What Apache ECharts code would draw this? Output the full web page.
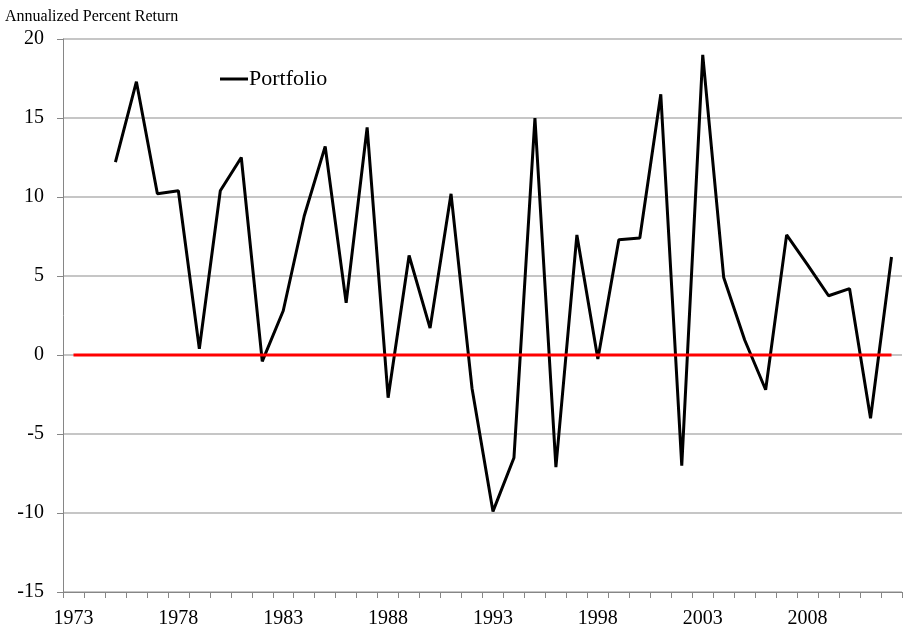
<!DOCTYPE html>
<html>
<head>
<meta charset="utf-8">
<script src="https://cdn.jsdelivr.net/npm/echarts@6/dist/echarts.min.js"></script>
<style>
  html, body { margin: 0; padding: 0; background: #fff; }
  #chart { width: 904px; height: 629px; }
</style>
</head>
<body>
<div id="chart"></div>
<script>
const years = [];
for (let y = 1973; y <= 2012; y++) years.push(String(y));

// portfolio returns, 1975 - 2012
const returnYears = ['1975','1976','1977','1978','1979','1980','1981','1982','1983','1984',
  '1985','1986','1987','1988','1989','1990','1991','1992','1993','1994',
  '1995','1996','1997','1998','1999','2000','2001','2002','2003','2004',
  '2005','2006','2007','2008','2009','2010','2011','2012']
const returns = [12.2, 17.3, 10.2, 10.4, 0.4, 10.4, 12.5, -0.4, 2.8, 8.8,
  13.2, 3.3, 14.4, -2.7, 6.3, 1.7, 10.2, -2.1, -9.9, -6.5,
  15.0, -7.1, 7.6, -0.25, 7.3, 7.4, 16.5, -7.0, 19.0, 4.9,
  0.95, -2.2, 7.6, 5.7, 3.75, 4.2, -4.0, 6.2]
const zeroEnds = ['1973', '2012']
const yTicks = { min: -15, max: 20, step: 5 }

const font = '"Liberation Serif", "Times New Roman", serif'
var chart = echarts.init(document.getElementById('chart'))

var option = {
  animation: false,
  grid: { left: 63, right: 2, top: 39, bottom: 37, containLabel: false },
  title: {
    text: 'Annualized Percent Return',
    left: 0, top: 4,
    textStyle: { fontFamily: font, fontSize: 16, fontWeight: 'normal', color: '#000' }
  },
  legend: {
    data: ['Portfolio'],
    left: 215, top: 63,
    icon: 'rect',
    itemWidth: 28, itemHeight: 3, itemGap: 2,
    textStyle: { fontFamily: font, fontSize: 22, color: '#000', padding: [0, 0, 0, -4] }
  },
  xAxis: {
    type: 'category',
    data: years,
    boundaryGap: true,
    axisLine: { onZero: false, lineStyle: { color: '#868686', width: 1 } },
    axisTick: { show: true, interval: 0, length: 6, lineStyle: { color: '#868686' } },
    axisLabel: { interval: 4, fontFamily: font, fontSize: 20, color: '#000', margin: 17 },
    splitLine: { show: false }
  },
  yAxis: {
    type: 'value',
    min: yTicks.min, max: yTicks.max, interval: yTicks.step,
    axisLine: { show: true, lineStyle: { color: '#868686', width: 1 } },
    axisTick: { show: true, length: 6, lineStyle: { color: '#868686' } },
    axisLabel: { fontFamily: font, fontSize: 20, color: '#000', margin: 19 },
    splitLine: { lineStyle: { color: '#b3b3b3', width: 1.5 } }
  },
  series: [
    {
      name: 'Portfolio',
      type: 'line',
      data: returnYears.map((y, i) => [y, returns[i]]),
      symbol: 'none',
      color: '#000',
      lineStyle: { color: '#000', width: 3 },
      z: 2
    },
    {
      name: 'Zero',
      type: 'line',
      data: zeroEnds.map(y => [y, 0]),
      symbol: 'none',
      color: '#ff0000',
      lineStyle: { color: '#ff0000', width: 3 },
      z: 3
    }
  ]
}

chart.setOption(option)
</script>
</body>
</html>
